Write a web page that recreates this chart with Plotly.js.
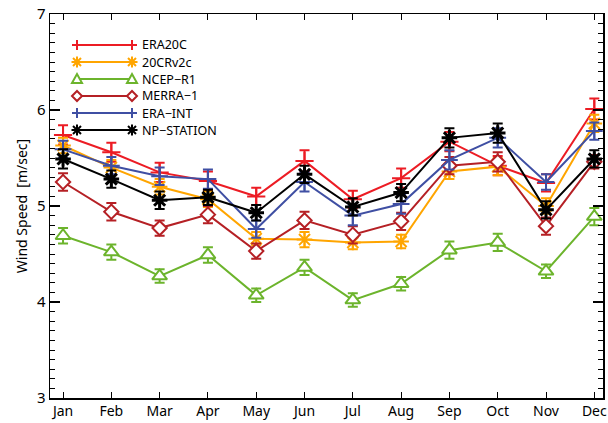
<!DOCTYPE html>
<html>
<head>
<meta charset="utf-8">
<script src="https://cdn.plot.ly/plotly-3.0.1.min.js"></script>
<style>html,body{margin:0;padding:0;background:#fff;}#chart{width:608px;height:423px;}</style>
</head>
<body>
<div id="chart"></div>
<script>
// ---- data ----
var months = ['Jan','Feb','Mar','Apr','May','Jun','Jul','Aug','Sep','Oct','Nov','Dec'];
var monthNum = [1,2,3,4,5,6,7,8,9,10,11,12];

var era20c     = [5.74, 5.56, 5.35, 5.26, 5.10, 5.47, 5.07, 5.29, 5.67, 5.42, 5.24, 6.01];
var cr20v2c    = [5.63, 5.40, 5.20, 5.07, 4.66, 4.65, 4.62, 4.63, 5.36, 5.41, 5.00, 5.86];
var ncepR1     = [4.69, 4.52, 4.27, 4.49, 4.07, 4.36, 4.02, 4.19, 4.54, 4.62, 4.32, 4.89];
var merra1     = [5.25, 4.94, 4.77, 4.91, 4.53, 4.85, 4.70, 4.84, 5.42, 5.46, 4.79, 5.46];
var eraInt     = [5.59, 5.42, 5.31, 5.28, 4.76, 5.25, 4.90, 5.02, 5.48, 5.71, 5.25, 5.78];
var npStation  = [5.49, 5.28, 5.06, 5.09, 4.93, 5.33, 4.99, 5.14, 5.71, 5.76, 4.96, 5.49];

var era20cErr    = [0.10, 0.10, 0.10, 0.10, 0.09, 0.11, 0.09, 0.10, 0.10, 0.10, 0.09, 0.11];
var cr20v2cErr   = [0.08, 0.08, 0.08, 0.08, 0.07, 0.08, 0.07, 0.07, 0.08, 0.09, 0.08, 0.09];
var ncepR1Err    = [0.08, 0.08, 0.07, 0.08, 0.07, 0.08, 0.07, 0.07, 0.09, 0.09, 0.07, 0.09];
var merra1Err    = [0.09, 0.09, 0.08, 0.09, 0.08, 0.09, 0.09, 0.09, 0.09, 0.10, 0.09, 0.07];
var eraIntErr    = [0.09, 0.09, 0.09, 0.10, 0.09, 0.10, 0.10, 0.10, 0.10, 0.10, 0.08, 0.09];
var npStationErr = [0.10, 0.09, 0.09, 0.08, 0.08, 0.09, 0.09, 0.09, 0.10, 0.10, 0.09, 0.09];

var seriesNames = ['ERA20C','20CRv2c','NCEP\u2212R1','MERRA\u22121','ERA\u2212INT','NP\u2212STATION'];

// ---- styling ----
var colors  = ['#ec1c24', '#ffa500', '#6cb42c', '#b52025', '#3f4fa3', '#000000'];
var symbols = ['cross-thin-open', 'asterisk-open', 'triangle-up', 'diamond', 'cross-thin-open', 'asterisk-open'];
var msizes  = [13, 13, 13, 11, 12, 13];
var values  = [era20c, cr20v2c, ncepR1, merra1, eraInt, npStation];
var errs    = [era20cErr, cr20v2cErr, ncepR1Err, merra1Err, eraIntErr, npStationErr];

var traces = values.map(function(v, i){
  var filled = (symbols[i] === 'triangle-up' || symbols[i] === 'diamond');
  return {
    type: 'scatter', mode: 'lines+markers',
    name: seriesNames[i], x: monthNum, y: v,
    line: {color: colors[i], width: 2},
    marker: {symbol: symbols[i], size: msizes[i],
             color: filled ? '#ffffff' : colors[i],
             line: {color: colors[i], width: i === 5 ? 3 : 2}},
    error_y: {type: 'data', array: errs[i], visible: true, color: colors[i], thickness: 2, width: 5},
    showlegend: false, hoverinfo: 'skip'
  };
});

// ---- hand-drawn legend (lines + glyphs at both ends, text labels) ----
var plotL = 50, plotR = 603, plotT = 14, plotB = 398;
function px2paperX(px){ return (px - plotL) / (plotR - plotL); }
function px2paperY(py){ return (plotB - py) / (plotB - plotT); }
var glyphPaths = [
  'M-5,0H5M0,-5V5',
  'M-5.5,0H5.5M0,-5.5V5.5M-4,-4L4,4M-4,4L4,-4',
  'M-5,-4L5,-4L0,5Z',
  'M-5,0L0,5L5,0L0,-5Z',
  'M-5,0H5M0,-5V5',
  'M-5.5,0H5.5M0,-5.5V5.5M-4,-4L4,4M-4,4L4,-4'
];
var shapes = [], annotations = [];
var legX0 = 77, legX1 = 132, legTextX = 141, legY0 = 45, legDy = 17;
seriesNames.forEach(function(n, i){
  var yp = px2paperY(legY0 + legDy * i);
  shapes.push({type:'line', xref:'paper', yref:'paper', x0:px2paperX(legX0), x1:px2paperX(legX1), y0:yp, y1:yp,
               line:{color:colors[i], width:2}});
  [legX0, legX1].forEach(function(xx){
    shapes.push({type:'path', xref:'paper', yref:'paper', xsizemode:'pixel', ysizemode:'pixel',
                 xanchor:px2paperX(xx), yanchor:yp, path:glyphPaths[i],
                 fillcolor:(i===2||i===3)?'#ffffff':'rgba(0,0,0,0)',
                 line:{color:colors[i], width: 2}});
  });
  annotations.push({xref:'paper', yref:'paper', x:px2paperX(legTextX), y:yp, xanchor:'left', yanchor:'middle',
                    text:n, showarrow:false, borderpad:0,
                    font:{family:'Noto Sans, sans-serif', size:12.5, color:'#000'}});
});

var layout = {
  width: 608, height: 423,
  margin: {l: plotL, r: 608 - plotR, t: plotT, b: 423 - plotB, pad: 0},
  paper_bgcolor: '#ffffff', plot_bgcolor: '#ffffff',
  font: {family: 'Noto Sans, sans-serif', size: 14, color: '#000'},
  showlegend: false,
  xaxis: {range: [0.73, 12.18], tickvals: monthNum, ticktext: months,
          ticks: 'inside', ticklen: 6, tickwidth: 1, tickcolor: '#000',
          showline: true, linecolor: '#000', linewidth: 1.5, mirror: 'ticks',
          showgrid: false, zeroline: false, tickfont: {size: 14}},
  yaxis: {range: [3, 7], dtick: 1, ticks: 'inside', ticklen: 10, tickwidth: 1.5, tickcolor: '#000',
          minor: {dtick: 0.1, ticks: 'inside', ticklen: 5, tickwidth: 1, tickcolor: '#000', showgrid: false},
          showline: true, linecolor: '#000', linewidth: 1.5, mirror: 'allticks',
          showgrid: false, zeroline: false, tickfont: {size: 15},
          title: {text: 'Wind Speed  [m/sec]', font: {size: 14}, standoff: 6}},
  shapes: shapes,
  annotations: annotations
};

Plotly.newPlot('chart', traces, layout, {staticPlot: true, displayModeBar: false});
</script>
</body>
</html>
